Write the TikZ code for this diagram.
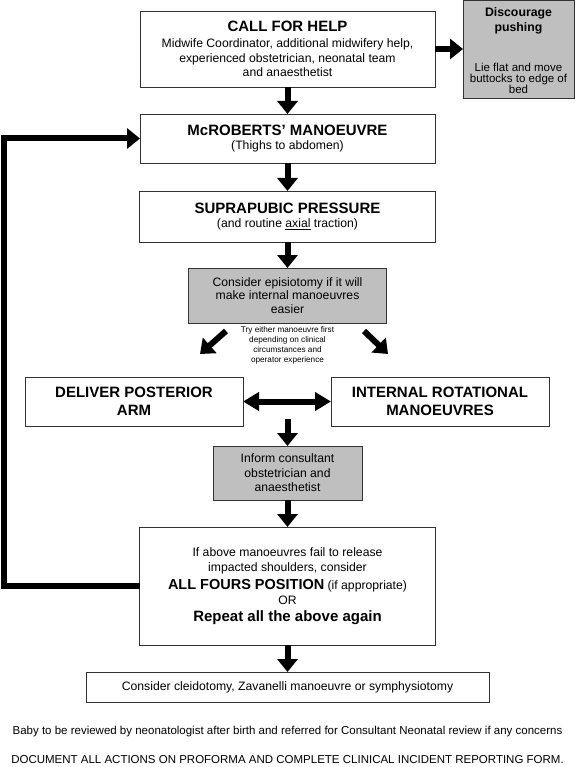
\documentclass[tikz,border=0pt]{standalone}
\usepackage{fontspec}
\setmainfont{Liberation Sans}
\usepackage[rgb]{xcolor}
\definecolor{adviceBody}{rgb}{0.75,0.75,0.75}
\definecolor{boxBorder}{rgb}{0.2,0.2,0.2}
\usepackage{tikz}
\usetikzlibrary{arrows.meta}
\usetikzlibrary{positioning}
\newcommand{\fsz}[2]{\fontsize{#1}{#2}\selectfont}
\tikzstyle{action} = [draw=boxBorder, line width=0.8pt, fill=white, align=center,
        inner sep=2pt, outer sep=0pt, font=\fsz{12.2}{14.5}]
\tikzstyle{advice} = [action, fill=adviceBody]
\tikzstyle{heading} = [font=\fsz{15}{18}\bfseries]
\tikzstyle{flow} = [line width=6pt, -{Triangle[width=20pt,length=13pt]}]
\tikzstyle{twoway} = [line width=6pt, {Triangle[width=18pt,length=16pt]}-{Triangle[width=18pt,length=16pt]}]
\tikzstyle{hint} = [font=\fsz{8.2}{10}, align=center, inner sep=0pt]
\tikzstyle{footer} = [font=\fsz{11.5}{13}, inner sep=0pt]

\begin{document}
\begin{tikzpicture}[x=1pt, y=-1pt]
        \useasboundingbox (0,0) rectangle (575,767);
        \node [action, minimum width=295pt, minimum height=76pt] (help) at (287.5,49)
            {{\fsz{15}{18}\bfseries CALL FOR HELP}\\[1.5pt]Midwife Coordinator, additional midwifery help,\\experienced obstetrician, neonatal team\\and anaesthetist};
        \node [advice, minimum width=111pt, minimum height=98pt, font=\fsz{11.5}{11}, right=28pt of help] (discourage)
            {{\fsz{12.3}{13.4}\bfseries\rule{0pt}{12pt}Discourage}\\[2pt]{\fsz{12.3}{13.4}\bfseries pushing}\\[29pt]Lie flat and move\\buttocks to edge of\\bed};
        \node [action, minimum width=295pt, minimum height=49pt, below=27pt of help] (mcroberts)
            {{\fsz{15}{17}\bfseries McROBERTS’ MANOEUVRE}\\(Thighs to abdomen)};
        \node [action, minimum width=296pt, minimum height=51pt, below=28pt of mcroberts] (suprapubic)
            {{\fsz{15}{17}\bfseries SUPRAPUBIC PRESSURE}\\(and routine \underline{axial} traction)};
        \node [advice, minimum width=198pt, minimum height=55pt, font=\fsz{12.2}{13.3}, below=26pt of suprapubic] (episiotomy)
            {Consider episiotomy if it will\\make internal manoeuvres\\easier};
        \node [hint, below=3pt of episiotomy] (either)
            {Try either manoeuvre first\\depending on clinical\\circumstances and\\operator experience};
        \node [action, heading, minimum width=218pt, minimum height=49pt] (posterior) at (134,401.5)
            {DELIVER POSTERIOR\\ARM};
        \node [action, heading, minimum width=218pt, minimum height=49pt, right=88pt of posterior] (rotational)
            {INTERNAL ROTATIONAL\\MANOEUVRES};
        \node [advice, minimum width=149pt, minimum height=54pt] (inform) at (287.5,473)
            {Inform consultant\\obstetrician and\\anaesthetist};
        \node [action, minimum width=296pt, minimum height=118pt, font=\fsz{12.2}{15}, below=27pt of inform] (allfours)
            {If above manoeuvres fail to release\\impacted shoulders, consider\\[3pt]{\fsz{14.5}{16}\bfseries ALL FOURS POSITION} (if appropriate)\\OR\\[2pt]{\fsz{15}{17}\bfseries Repeat all the above again}};
        \node [action, minimum width=403pt, minimum height=30pt, below=27pt of allfours] (cleidotomy)
            {Consider cleidotomy, Zavanelli manoeuvre or symphysiotomy};
        \node [footer] (neonatal) at (287.5,732)
            {Baby to be reviewed by neonatologist after birth and referred for Consultant Neonatal review if any concerns};
        \node [footer] (proforma) at (287.5,760)
            {DOCUMENT ALL ACTIONS ON PROFORMA AND COMPLETE CLINICAL INCIDENT REPORTING FORM.};
        \coordinate (leftfrom) at (226,331);
        \coordinate (lefttip) at (200,354);
        \coordinate (rightfrom) at (364,331);
        \coordinate (righttip) at (388,354);
        \coordinate (split) at (287.5,419);
        \coordinate (loopedge) at (4,0);
        \draw [flow] (help) -- (mcroberts);
        \draw [flow] (help.east) -- (help.east -| discourage.west);
        \draw [flow] (mcroberts) -- (suprapubic);
        \draw [flow] (suprapubic) -- (episiotomy);
        \draw [flow] (leftfrom) -- (lefttip);
        \draw [flow] (rightfrom) -- (righttip);
        \draw [twoway] (posterior) -- (rotational);
        \draw [flow] (split) -- (inform);
        \draw [flow] (inform) -- (allfours);
        \draw [flow] (allfours) -- (cleidotomy);
        \draw [flow]
            (allfours.west)
            --
            (allfours.west -| loopedge)
            |- (mcroberts.west);
\end{tikzpicture}
\end{document}
